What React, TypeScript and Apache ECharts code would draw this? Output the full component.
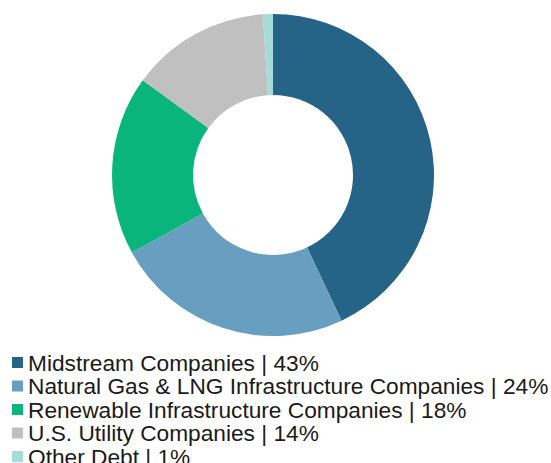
import React, { useEffect, useRef } from "react";
import * as echarts from "echarts";

const categories = [
  "Midstream Companies",
  "Natural Gas & LNG Infrastructure Companies",
  "Renewable Infrastructure Companies",
  "U.S. Utility Companies",
  "Other Debt",
];
const values = [43, 24, 18, 14, 1];
const colors = ["#256387", "#689ec0", "#0ab57c", "#c0c0c0", "#a6dcd7"];

export default function App() {
  const ref = useRef<HTMLDivElement>(null);
  useEffect(() => {
    document.body.style.margin = "0";
    const chart = echarts.init(ref.current!, null, { renderer: "svg" });
    const labelMap: Record<string, string> = {};
    categories.forEach((c, i) => (labelMap[c] = `${c} | ${values[i]}%`));
    chart.setOption({
      animation: false,
      color: colors,
      legend: {
        orient: "vertical",
        left: 12,
        top: 351,
        height: 300,
        padding: 0,
        itemWidth: 11,
        itemHeight: 11,
        itemGap: 0.5,
        icon: "rect",
        textStyle: {
          fontFamily: "Liberation Sans",
          fontSize: 22.7,
          lineHeight: 22,
          color: "#1a1a1a",
          padding: [0, 0, 0, 0],
        },
        formatter: (name: string) => labelMap[name],
        data: categories,
      },
      series: [
        {
          type: "pie",
          center: [273, 175],
          radius: [80, 161],
          startAngle: 90,
          clockwise: true,
          label: { show: false },
          labelLine: { show: false },
          emphasis: { disabled: true },
          data: categories.map((c, i) => ({ name: c, value: values[i] })),
        },
      ],
    });
    return () => chart.dispose();
  }, []);
  return <div ref={ref} style={{ width: 551, height: 463 }} />;
}
